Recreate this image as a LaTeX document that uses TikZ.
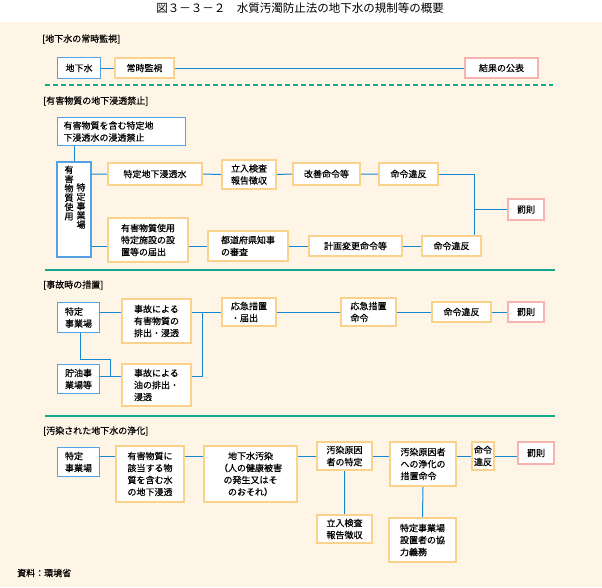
\documentclass[tikz,border=0pt]{standalone}
\usepackage{fontspec}
\setmainfont{Noto Sans CJK JP}[FakeBold=0.5]
\newfontfamily\titlefont{Noto Sans CJK JP}
\usetikzlibrary{calc}
\definecolor{cream}{RGB}{255,245,231}
\definecolor{lineblue}{RGB}{20,135,210}
\definecolor{boxblue}{RGB}{85,162,226}
\definecolor{boxorange}{RGB}{250,210,140}
\definecolor{boxpink}{RGB}{245,180,175}
\definecolor{sepgreen}{RGB}{20,168,140}

\begin{document}
\begin{tikzpicture}[x=1pt,y=-1pt,
	box/.style={draw,fill=white,inner sep=0pt,align=left,font=\fontsize{9}{12}\selectfont},
	bbox/.style={box,draw=boxblue,line width=1.1pt},
	obox/.style={box,draw=boxorange,line width=2.2pt},
	pbox/.style={box,draw=boxpink,line width=2.2pt},
	wh/.style 2 args={minimum width=#1pt,minimum height=#2pt},
	con/.style={draw=lineblue,line width=1pt},
	sep/.style={draw=sepgreen,line width=1.3pt},
	lbl/.style={anchor=west,inner sep=0pt,font=\fontsize{9}{12}\selectfont}]
			          %fond
			          \useasboundingbox (0,0) rectangle (602,587);
			          \fill[white] (0,0) rectangle (602,22);
			          \fill[cream] (0,22) rectangle (602,587);
			          \node[inner sep=0pt,font=\titlefont\fontsize{11.5}{12}\selectfont] (title) at (300,8) {図３－３－２　水質汚濁防止法の地下水の規制等の概要};
			          
			          %[地下水の常時監視]
			          \node[lbl] (sec_1) at (42,39) {[地下水の常時監視]};
			          \node[bbox,wh={43}{21}] (gw) at (79,68) {地下水};
			          \node[obox,wh={59}{20}] (watch) at (144.5,68) {常時監視};
			          \node[pbox,wh={73}{20}] (pub) at (501.5,68) {結果の公表};
			          \draw[con] (gw.east) -- (watch.west) (watch.east) -- (pub.west);
			          \draw[draw=sepgreen,line width=1.2pt,dash pattern=on 5pt off 3pt] (45,85) -- (553,85);
			          
			          %[有害物質の地下浸透禁止]
			          \node[lbl] (sec_2) at (43,101) {[有害物質の地下浸透禁止]};
			          \node[bbox,wh={128}{28},text width=116pt,inner xsep=6pt] (ban) at (121.5,131.5) {有害物質を含む特定地\\下浸透水の浸透禁止};
			          \node[bbox,wh={34}{95}] (user) at (74,209.5) {};
			          \node[inner sep=0pt,align=center,font=\fontsize{9}{9.3}\selectfont] (user_a) at (69,193) {有\\害\\物\\質\\使\\用};
			          \node[inner sep=0pt,align=center,font=\fontsize{9}{9.3}\selectfont] (user_b) at (81,206) {特\\定\\事\\業\\場};
			          \node[obox,wh={94}{22}] (seep) at (155,174) {特定地下浸透水};
			          \node[obox,wh={54}{29}] (insp) at (249,174.5) {立入検査\\報告徴収};
			          \node[obox,wh={67}{22}] (impr) at (326.5,174) {改善命令等};
			          \node[obox,wh={59}{22}] (viol_1) at (408.5,174) {命令違反};
			          \node[pbox,wh={36}{21}] (pen_1) at (526,209.5) {罰則};
			          \node[obox,wh={80}{44}] (notif) at (148,240) {有害物質使用\\特定施設の設\\置等の届出};
			          \node[obox,wh={80}{30}] (pref) at (248,246) {都道府県知事\\の審査};
			          \node[obox,wh={93}{20}] (plan) at (355.5,246) {計画変更命令等};
			          \node[obox,wh={59}{20}] (viol_2) at (451.5,246) {命令違反};
			          \coordinate (j_1) at (474,174);
			          \draw[con] (ban.south -| user) -- (user.north);
			          \draw[con] (user.east |- seep.west) -- (seep.west) (seep.east) -- (insp.west) (insp.east) -- (impr.west) (impr.east) -- (viol_1.west);
			          \draw[con] (viol_1.east) -- (j_1) -- (j_1 |- viol_2.north);
			          \draw[con] (j_1 |- pen_1.west) -- (pen_1.west);
			          \draw[con] (user.east |- pref.west) -- (notif.west |- pref.west) (notif.east |- pref.west) -- (pref.west) (pref.east) -- (plan.west) (plan.east) -- (viol_2.west);
			          \draw[sep] (45,270) -- (555,270);
			          
			          %[事故時の措置]
			          \node[lbl] (sec_3) at (43,285) {[事故時の措置]};
			          \node[bbox,wh={42}{30}] (site_3) at (78.5,317.5) {特定\\事業場};
			          \node[obox,wh={69}{44}] (acc_1) at (156.5,321) {事故による\\有害物質の\\排出・浸透};
			          \node[bbox,wh={42}{29}] (oil) at (78.5,379) {貯油事\\業場等};
			          \node[obox,wh={69}{42}] (acc_2) at (156.5,385) {事故による\\油の排出・\\浸透};
			          \node[obox,wh={54}{28}] (emg) at (249,312) {応急措置\\・届出};
			          \node[obox,wh={55}{28}] (emgord) at (368.5,312) {応急措置\\命令};
			          \node[obox,wh={59}{20}] (viol_3) at (461.5,312) {命令違反};
			          \node[pbox,wh={36}{20}] (pen_3) at (526,312) {罰則};
			          \coordinate (j_3) at (202,312);
			          \coordinate (j_4) at (110,376);
			          \draw[con] (site_3.east |- emg.west) -- (acc_1.west |- emg.west) (acc_1.east |- emg.west) -- (emg.west) (emg.east) -- (emgord.west) (emgord.east) -- (viol_3.west) (viol_3.east) -- (pen_3.west);
			          \draw[con] (acc_2.east |- j_4) -| (j_3);
			          \draw[con] (oil.east |- j_4) -- (acc_2.west |- j_4);
			          \draw[con] ([xshift=1.5pt]site_3.south) -- ++(0,26) -| (j_4);
			          \draw[sep] (45,416) -- (555,416);
			          
			          %[汚染された地下水の浄化]
			          \node[lbl] (sec_4) at (43,431) {[汚染された地下水の浄化]};
			          \node[bbox,wh={42}{29}] (site_4) at (78.5,462) {特定\\事業場};
			          \node[obox,wh={68}{56}] (seep_4) at (150,474) {有害物質に\\該当する物\\質を含む水\\の地下浸透};
			          \node[obox,wh={93}{56},align=center] (contam) at (250.5,474) {地下水汚染\\（人の健康被害\\の発生又はそ\\のおそれ）};
			          \node[obox,wh={55}{28}] (ident) at (344.5,456) {汚染原因\\者の特定};
			          \node[obox,wh={66}{44}] (clean) at (423,464) {汚染原因者\\への浄化の\\措置命令};
			          \node[obox,wh={22}{28}] (viol_4) at (483,456) {命令\\違反};
			          \node[pbox,wh={36}{22}] (pen_4) at (536,453) {罰則};
			          \node[obox,wh={55}{28}] (insp_4) at (344.5,529) {立入検査\\報告徴収};
			          \node[obox,wh={67}{44}] (coop) at (422.5,540) {特定事業場\\設置者の協\\力義務};
			          \coordinate (r_4) at (0,456);
			          \draw[con] (site_4.east |- r_4) -- (seep_4.west |- r_4) (seep_4.east |- r_4) -- (contam.west |- r_4) (contam.east |- r_4) -- (ident.west) (ident.east) -- (clean.west |- r_4) (clean.east |- r_4) -- (viol_4.west) (viol_4.east) -- (pen_4.west |- r_4);
			          \draw[con] (ident.south) -- (insp_4.north) (clean.south) -- (coop.north);
			          
			          \node[lbl] (src) at (17,573) {資料：環境省};
				  \end{tikzpicture}
\end{document}
